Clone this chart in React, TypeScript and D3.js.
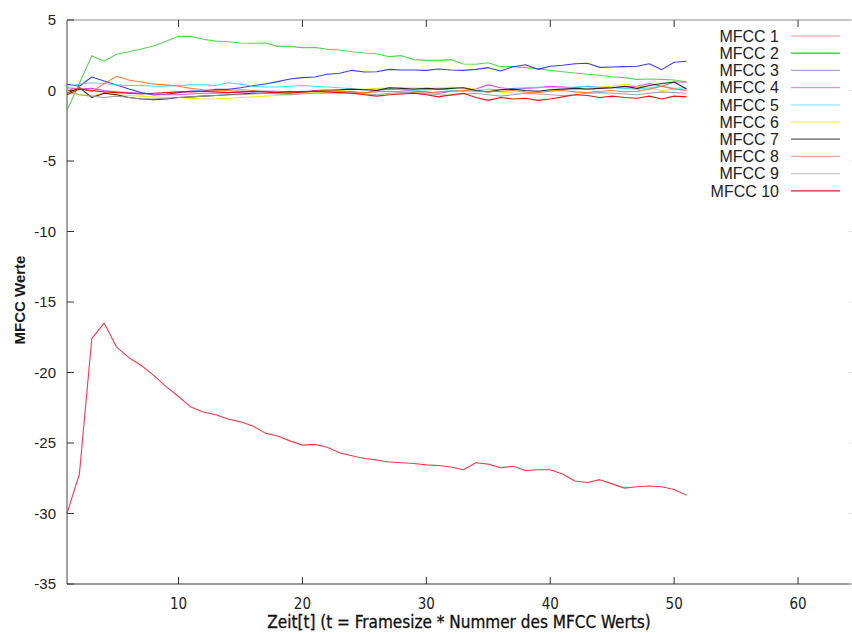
import React, { useEffect, useRef } from 'react';
import * as d3 from 'd3';

const seriesNames = ['MFCC 1', 'MFCC 2', 'MFCC 3', 'MFCC 4', 'MFCC 5', 'MFCC 6', 'MFCC 7', 'MFCC 8', 'MFCC 9', 'MFCC 10'];

const mfcc1 = [-30.0, -27.2, -17.6, -16.5, -18.2, -18.95, -19.5, -20.2, -21.0, -21.7, -22.45, -22.8, -23.0, -23.3, -23.5, -23.8, -24.3, -24.5, -24.85, -25.15, -25.1, -25.3, -25.7, -25.9, -26.1, -26.2, -26.35, -26.4, -26.45, -26.55, -26.6, -26.7, -26.9, -26.4, -26.5, -26.75, -26.65, -26.95, -26.9, -26.9, -27.2, -27.7, -27.8, -27.6, -27.9, -28.2, -28.1, -28.05, -28.1, -28.3, -28.7];
const mfcc2 = [-1.4, 0.5, 2.47, 2.07, 2.57, 2.75, 2.94, 3.16, 3.5, 3.84, 3.84, 3.63, 3.5, 3.46, 3.37, 3.35, 3.37, 3.13, 3.13, 3.04, 3.06, 2.92, 2.87, 2.75, 2.66, 2.61, 2.4, 2.47, 2.19, 2.14, 2.14, 2.19, 1.88, 1.86, 1.97, 1.69, 1.69, 1.62, 1.55, 1.43, 1.33, 1.24, 1.15, 1.08, 0.98, 0.91, 0.79, 0.82, 0.79, 0.74, 0.6];
const mfcc3 = [0.44, 0.3, 0.96, 0.67, 0.39, 0.1, -0.15, -0.32, -0.27, -0.15, -0.04, -0.04, 0.08, 0.08, 0.2, 0.34, 0.46, 0.63, 0.82, 0.91, 0.96, 1.15, 1.22, 1.43, 1.31, 1.33, 1.5, 1.45, 1.45, 1.43, 1.52, 1.45, 1.43, 1.5, 1.62, 1.38, 1.69, 1.83, 1.5, 1.72, 1.79, 1.9, 1.93, 1.64, 1.67, 1.69, 1.72, 1.9, 1.48, 2.0, 2.07];
const mfcc4 = [0.2, 0.1, 0.15, 0.0, -0.1, -0.15, -0.2, -0.25, -0.3, -0.3, -0.25, -0.2, -0.2, -0.15, -0.1, -0.1, -0.05, -0.05, -0.1, -0.1, 0.0, 0.05, -0.05, -0.1, -0.2, 0.0, 0.1, 0.05, -0.05, -0.1, -0.2, -0.05, 0.0, 0.1, 0.4, 0.2, 0.1, 0.15, 0.2, 0.3, 0.25, 0.2, 0.3, 0.2, 0.2, 0.25, 0.3, 0.5, 0.3, 0.6, 0.6];
const mfcc5 = [0.3, 0.45, 0.55, 0.5, 0.4, 0.35, 0.35, 0.3, 0.3, 0.35, 0.4, 0.4, 0.35, 0.55, 0.45, 0.3, 0.25, 0.25, 0.3, 0.35, 0.3, 0.25, 0.2, 0.1, 0.05, 0.1, 0.15, 0.05, 0.0, 0.05, 0.1, 0.0, -0.05, 0.0, 0.1, 0.05, 0.15, 0.2, 0.25, 0.2, 0.2, 0.25, 0.3, 0.25, 0.2, 0.15, 0.1, 0.2, 0.3, 0.15, 0.2];
const mfcc6 = [0.0, -0.3, -0.4, -0.2, -0.3, -0.35, -0.4, -0.45, -0.5, -0.5, -0.55, -0.6, -0.6, -0.55, -0.5, -0.45, -0.4, -0.35, -0.3, -0.2, -0.15, -0.1, 0.0, 0.05, 0.1, 0.15, 0.2, 0.2, 0.2, 0.15, 0.2, 0.25, 0.2, 0.1, 0.05, -0.1, -0.2, -0.2, -0.1, 0.0, 0.05, 0.1, 0.2, 0.25, 0.3, 0.45, 0.3, 0.2, 0.0, 0.1, 0.05];
const mfcc7 = [-0.2, 0.2, -0.5, -0.2, -0.3, -0.5, -0.6, -0.65, -0.6, -0.5, -0.45, -0.4, -0.35, -0.3, -0.25, -0.2, -0.2, -0.15, -0.1, -0.1, -0.05, 0.0, 0.05, 0.1, 0.05, 0.0, 0.2, 0.15, 0.1, 0.15, 0.1, 0.15, 0.2, 0.0, -0.1, 0.05, 0.1, 0.0, -0.05, 0.05, 0.1, 0.15, 0.1, 0.15, 0.2, 0.3, 0.15, 0.35, 0.5, 0.6, 0.1];
const mfcc8 = [0.0, 0.2, -0.1, 0.5, 1.0, 0.75, 0.6, 0.45, 0.4, 0.3, 0.15, 0.05, 0.0, 0.0, 0.05, 0.0, -0.05, -0.1, -0.15, -0.1, -0.05, 0.0, -0.05, -0.1, -0.15, -0.1, -0.05, -0.1, -0.15, -0.2, -0.1, -0.05, 0.0, -0.05, -0.1, -0.05, 0.0, -0.1, -0.15, -0.05, 0.0, -0.1, -0.15, -0.05, 0.0, -0.1, -0.05, 0.1, 0.3, 0.1, 0.0];
const mfcc9 = [-0.1, -0.3, -0.4, -0.5, -0.4, -0.5, -0.6, -0.6, -0.55, -0.5, -0.45, -0.4, -0.35, -0.3, -0.3, -0.25, -0.2, -0.25, -0.3, -0.25, -0.2, -0.2, -0.15, -0.2, -0.25, -0.3, -0.2, -0.15, -0.2, -0.25, -0.3, -0.35, -0.25, -0.2, -0.3, -0.4, -0.3, -0.2, -0.25, -0.3, -0.35, -0.3, -0.2, -0.15, -0.2, -0.25, -0.3, -0.2, -0.1, -0.15, -0.2];
const mfcc10 = [-0.3, 0.1, 0.0, -0.1, -0.15, -0.2, -0.25, -0.2, -0.15, -0.1, -0.1, -0.05, -0.1, -0.15, -0.1, -0.05, -0.1, -0.15, -0.2, -0.1, -0.05, -0.1, -0.15, -0.2, -0.3, -0.4, -0.3, -0.25, -0.2, -0.3, -0.45, -0.3, -0.2, -0.5, -0.7, -0.5, -0.6, -0.55, -0.7, -0.6, -0.45, -0.3, -0.35, -0.5, -0.4, -0.5, -0.55, -0.4, -0.6, -0.4, -0.45];

const xTicks = [10, 20, 30, 40, 50, 60];
const yTicks = [5, 0, -5, -10, -15, -20, -25, -30, -35];

// line colour in the plot, and the paler colour the legend samples show
const lineColors = ['#f02838', '#3ccc3c', '#2a2ade', '#e038e0', '#38d8f0', '#f0e418', '#151515', '#f07838', '#9a9a9a', '#e00000'];
const legendColors = ['#f4b4b8', '#22cc22', '#a4a4e4', '#e094e0', '#94e8f2', '#f4f080', '#5a5a5a', '#f4aa94', '#cccccc', '#c82828'];

const allSeries = [mfcc1, mfcc2, mfcc3, mfcc4, mfcc5, mfcc6, mfcc7, mfcc8, mfcc9, mfcc10];

export default function App() {
    const ref = useRef<SVGSVGElement>(null);
    const width = 852;
    const height = 634;
    const plot = { left: 67, right: 860, top: 20, bottom: 584 };

    useEffect(() => {
        const svg = d3.select(ref.current);
        svg.selectAll('*').remove();

        const x = d3.scaleLinear().domain([1, 65]).range([plot.left, plot.right]);
        const y = d3.scaleLinear().domain([-35, 5]).range([plot.bottom, plot.top]);

        svg.append('rect').attr('width', width).attr('height', height).attr('fill', '#fff');

        // frame (right edge falls outside the picture)
        svg.append('line').attr('x1', plot.left).attr('x2', width).attr('y1', plot.top).attr('y2', plot.top)
            .attr('stroke', '#8a8a8a').attr('stroke-width', 1.2);
        svg.append('line').attr('x1', plot.left).attr('x2', width).attr('y1', plot.bottom).attr('y2', plot.bottom)
            .attr('stroke', '#333').attr('stroke-width', 1);
        svg.append('line').attr('x1', plot.left).attr('x2', plot.left).attr('y1', plot.top).attr('y2', plot.bottom)
            .attr('stroke', '#444').attr('stroke-width', 1);

        // inward ticks
        const tickLen = 7;
        xTicks.forEach(t => {
            svg.append('line').attr('x1', x(t)).attr('x2', x(t)).attr('y1', plot.bottom).attr('y2', plot.bottom - tickLen)
                .attr('stroke', '#333');
            svg.append('line').attr('x1', x(t)).attr('x2', x(t)).attr('y1', plot.top).attr('y2', plot.top + tickLen)
                .attr('stroke', '#333');
        });
        yTicks.forEach(t => {
            svg.append('line').attr('x1', plot.left).attr('x2', plot.left + tickLen).attr('y1', y(t)).attr('y2', y(t))
                .attr('stroke', '#333');
            svg.append('line').attr('x1', width - 3).attr('x2', width).attr('y1', y(t)).attr('y2', y(t))
                .attr('stroke', '#e4e4e4');
        });

        // tick labels
        svg.append('g').selectAll('text')
            .data(yTicks)
            .enter().append('text')
            .attr('x', 56)
            .attr('y', d => y(d))
            .attr('dy', '0.36em')
            .attr('text-anchor', 'end')
            .attr('font-family', '"Liberation Sans", Arial, sans-serif')
            .attr('font-size', 15)
            .attr('fill', '#222')
            .text(d => d);

        svg.append('g').selectAll('text')
            .data(xTicks)
            .enter().append('text')
            .attr('x', d => x(d))
            .attr('y', 609)
            .attr('text-anchor', 'middle')
            .attr('font-family', '"DejaVu Sans Condensed", "DejaVu Sans", sans-serif')
            .attr('font-stretch', 'condensed')
            .attr('font-size', 15)
            .attr('fill', '#222')
            .text(d => d);

        // axis titles
        svg.append('text')
            .attr('x', 459)
            .attr('y', 628)
            .attr('text-anchor', 'middle')
            .attr('font-family', '"DejaVu Sans Condensed", "DejaVu Sans", sans-serif')
            .attr('font-stretch', 'condensed')
            .attr('font-size', 17)
            .attr('fill', '#111')
            .attr('stroke', '#111')
            .attr('stroke-width', 0.3)
            .text('Zeit[t] (t = Framesize * Nummer des MFCC Werts)');

        svg.append('text')
            .attr('transform', 'translate(25,300) rotate(-90)')
            .attr('text-anchor', 'middle')
            .attr('font-family', '"Liberation Sans", Arial, sans-serif')
            .attr('font-weight', 'bold')
            .attr('font-size', 15)
            .attr('fill', '#1a1a1a')
            .text('MFCC Werte');

        // series lines
        const line = d3.line<number>()
            .x((d, i) => x(i + 1))
            .y(d => y(d));

        allSeries.forEach((values, i) => {
            svg.append('path')
                .datum(values)
                .attr('d', line)
                .attr('fill', 'none')
                .attr('stroke', lineColors[i])
                .attr('stroke-width', 1.1)
                .attr('stroke-opacity', i === 1 ? 0.85 : 0.9)
                .attr('stroke-linejoin', 'round');
        });

        // legend
        const legend = svg.append('g');
        seriesNames.forEach((name, i) => {
            const ly = 36 + i * 17.2;
            legend.append('text')
                .attr('x', 779)
                .attr('y', ly)
                .attr('dy', '0.36em')
                .attr('text-anchor', 'end')
                .attr('font-family', '"Liberation Sans", Arial, sans-serif')
                .attr('font-size', 16)
                .attr('fill', '#222')
                .text(name);
            legend.append('line')
                .attr('x1', 791).attr('x2', 840)
                .attr('y1', ly).attr('y2', ly)
                .attr('stroke', legendColors[i])
                .attr('stroke-width', 1.3);
        });
    }, []);

    return (
        <svg ref={ref} width={width} height={height}
            style={{ position: 'absolute', left: 0, top: 0 }}></svg>
    );
}
